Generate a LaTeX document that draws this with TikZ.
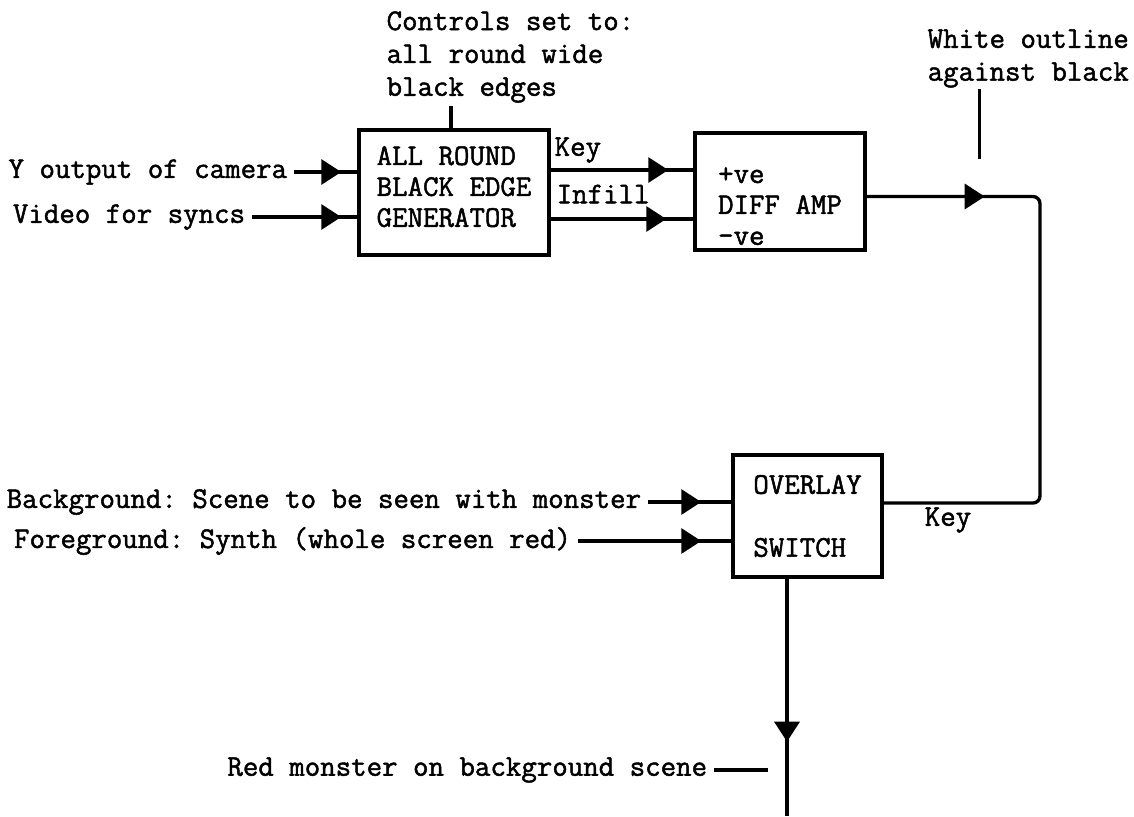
\documentclass[tikz,border=0pt]{standalone}
\usepackage{fontspec}
\newfontfamily\twfont[FakeBold=1.6]{Latin Modern Mono}
\frenchspacing
\usetikzlibrary{arrows.meta,decorations.markings}
\begin{document}
\begin{tikzpicture}[x=0.02cm,y=-0.02cm,
  line width=1.9pt,
  every node/.style={font=\twfont\fontsize{17.1}{17.6}\selectfont, inner sep=0pt},
  twoline/.style={font=\twfont\fontsize{17.1}{18.7}\selectfont},
  block/.style={draw, line width=2pt, align=left},
  lbl/.style={inner xsep=3pt},
  arrowat/.style={postaction={decorate},
    decoration={markings, mark=at position #1 with {\arrow{Triangle[length=0.4cm,width=0.5cm]}}}},
]
\useasboundingbox (0,0) rectangle (1134,816);

% blocks
\node[block, minimum width=3.8cm, minimum height=2.5cm] (gen) at (454,192.5)
  {ALL ROUND\\BLACK EDGE\\GENERATOR\rule[-0.24cm]{0pt}{0.24cm}};
\node[block, minimum width=3.4cm, minimum height=2.34cm] (diff) at (780,191.5)
  {\rule{0pt}{0.9cm}+ve\\DIFF AMP\\-ve};
\node[block, minimum width=2.98cm, minimum height=2.44cm] (sw) at (807.5,516)
  {OVERLAY\\[0.64cm]SWITCH};

% labels
\node[twoline, anchor=west, align=left] (ctrl) at (385,57)
  {Controls set to:\\all round wide\\black edges};
\node[twoline, anchor=west, align=left] (white) at (926,58.5)
  {White outline\\against black};
\node[lbl, anchor=east] (yout) at (294,172) {Y output of camera};
\node[lbl, anchor=east] (vid) at (252,217) {Video for syncs};
\node[anchor=west] (keya) at (553,150) {Key};
\node[anchor=west] (infill) at (555,194) {Infill};
\node[lbl, anchor=east] (bg) at (648,502) {Background: Scene to be seen with monster};
\node[lbl, anchor=east] (fg) at (578,541) {Foreground: Synth (whole screen red)};
\node[anchor=center] (keyb) at (948,520) {Key};
\node[lbl, anchor=east] (red) at (714,770) {Red monster on background scene};
\coordinate (c1) at (1040,0);
\coordinate (bot) at (787,816);

% connectors
\draw[arrowat=-0.32cm] (yout.east) -- (yout.east -| gen.west);
\draw[arrowat=-0.32cm] (vid.east) -- (vid.east -| gen.west);
\draw[arrowat=-0.5cm] ([yshift=0.45cm]gen.east) -- ([yshift=0.45cm]gen.east -| diff.west);
\draw[arrowat=-0.54cm] ([yshift=-0.53cm]gen.east) -- ([yshift=-0.53cm]gen.east -| diff.west);
\draw[arrowat=2.36cm, rounded corners=4pt] ([yshift=-0.1cm]diff.east) -- ([yshift=-0.1cm]diff.east -| c1)
  -- ([yshift=0.26cm]sw.east -| c1) -- ([yshift=0.26cm]sw.east);
\draw[arrowat=-0.6cm] (bg.east) -- (bg.east -| sw.west);
\draw[arrowat=-0.6cm] (fg.east) -- (fg.east -| sw.west);
\draw[arrowat=3.26cm] ([xshift=-0.41cm]sw.south) -- ([xshift=-0.41cm]sw.south |- bot);
\draw (red.east) -- ++(54,0);
\draw ([xshift=-0.06cm]gen.north) -- ++(0,-22);
\draw ([xshift=-0.98cm]white.south) -- ++(0,70);
\end{tikzpicture}
\end{document}
